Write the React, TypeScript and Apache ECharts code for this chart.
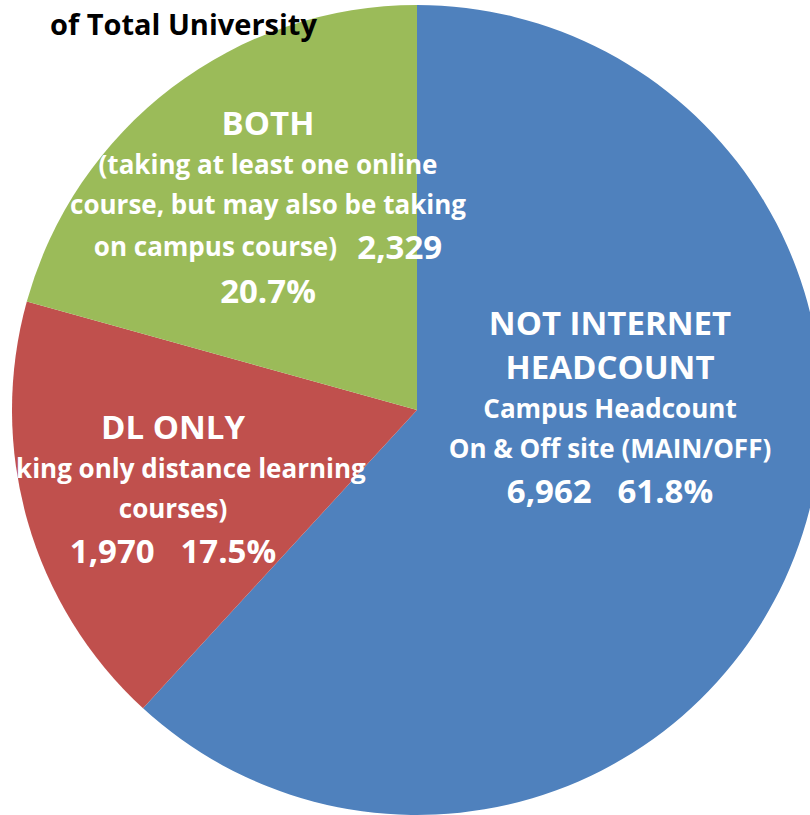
import React, { useEffect, useRef } from "react";
import * as echarts from "echarts";

const titleText = "of Total University";
const categories = ["NOT INTERNET HEADCOUNT", "DL ONLY", "BOTH"];
const values = [6962, 1970, 2329];
const colors = ["#4F81BD", "#C0504D", "#9BBB59"];
const headLines = [["NOT INTERNET", "HEADCOUNT"], ["DL ONLY"], ["BOTH"]];
const descLines = [
  ["Campus Headcount", "On & Off site (MAIN/OFF)"],
  ["(taking only distance learning", "courses)"],
  ["(taking at least one online", "course, but may also be taking", "on campus course)"],
];
const labelPos = [
  [610, 406],
  [173, 488],
  [268, 206],
];

const FONT = "Open Sans";

function fmt(n: number) {
  return n.toLocaleString("en-US");
}

export default function App() {
  const ref = useRef<HTMLDivElement>(null);
  useEffect(() => {
    if (!ref.current) return;
    const chart = echarts.init(ref.current, null, { renderer: "svg" });
    const option = {
      animation: false,
      title: {
        text: titleText,
        left: 45,
        top: 4,
        textStyle: { fontFamily: FONT, fontWeight: "bold", fontSize: 29, color: "#000" },
      },
      series: [
        {
          type: "pie",
          center: [417, 410],
          radius: 405,
          startAngle: 90,
          clockwise: true,
          avoidLabelOverlap: false,
          itemStyle: { borderWidth: 0 },
          labelLine: { show: false },
          data: categories.map((c, i) => ({ name: c, value: values[i], itemStyle: { color: colors[i] } })),
          label: {
            show: true,
            position: "inside",
            color: "#fff",
            fontFamily: FONT,
            fontWeight: "bold",
            formatter: (p: any) => {
              const i = p.dataIndex;
              const pct = p.percent.toFixed(1) + "%";
              const heads = headLines[i].map((h) => `{big|${h}}`);
              const descs = descLines[i];
              if (i === 0) {
                return [
                  ...heads,
                  ...descs.map((d) => `{mid|${d}}`),
                  `{big|${fmt(p.value)}   ${pct}}`,
                ].join("\n");
              }
              if (i === 1) {
                return [
                  ...heads,
                  ...descs.map((d) => `{red|${d}}`),
                  `{big|${fmt(p.value)}   ${pct}}`,
                ].join("\n");
              }
              const last = descs.length - 1;
              return [
                ...heads,
                ...descs.slice(0, last).map((d) => `{small|${d}}`),
                `{small|${descs[last]}   }{big|${fmt(p.value)}}`,
                `{big|${pct}}`,
              ].join("\n");
            },
            rich: {
              big: { fontFamily: FONT, fontWeight: "bold", fontSize: 33, color: "#fff", lineHeight: 44 },
              mid: { fontFamily: FONT, fontWeight: "bold", fontSize: 26, color: "#fff", lineHeight: 40 },
              red: { fontFamily: FONT, fontWeight: "bold", fontSize: 26, color: "#fff", lineHeight: 40 },
              small: { fontFamily: FONT, fontWeight: "bold", fontSize: 26, color: "#fff", lineHeight: 40 },
            },
          },
          labelLayout: (p: any) => ({
            x: labelPos[p.dataIndex][0],
            y: labelPos[p.dataIndex][1],
            align: "center",
            verticalAlign: "middle",
            hideOverlap: false,
          }),
        },
      ],
    };
    chart.setOption(option as any);
    return () => chart.dispose();
  }, []);
  return (
    <div
      ref={ref}
      style={{ position: "fixed", left: 0, top: 0, width: 810, height: 815, background: "#fff" }}
    />
  );
}
